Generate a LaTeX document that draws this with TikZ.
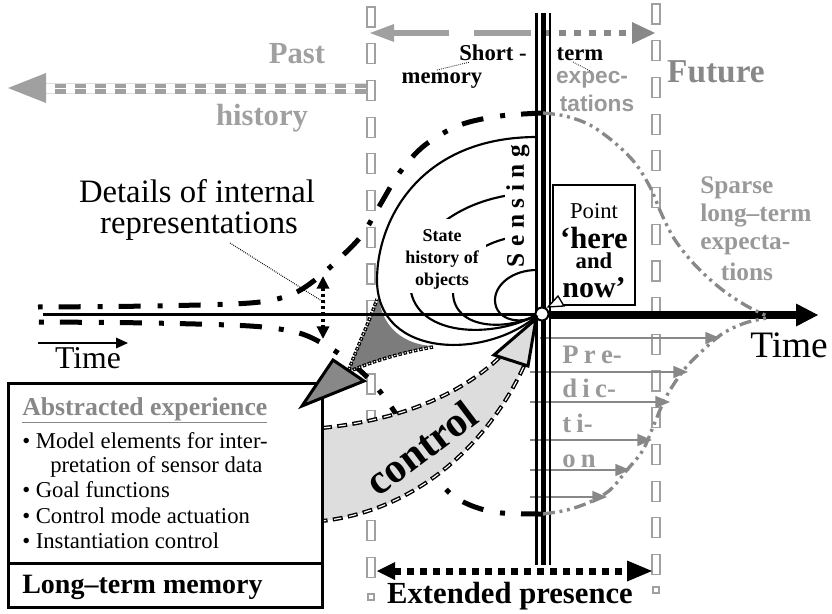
\documentclass[tikz,border=0pt]{standalone}
\usepackage{fontspec}
\setmainfont{Liberation Serif}
\newfontfamily\sansfam{Liberation Sans}
\usetikzlibrary{arrows.meta}
\definecolor{pgray}{HTML}{A0A0A0}
\definecolor{mgray}{HTML}{888888}
\definecolor{tgray}{HTML}{999999}
\definecolor{dgray}{HTML}{7C7C7C}
\definecolor{lgray}{HTML}{DDDDDD}
\newcommand{\fsz}[1]{\fontsize{#1}{#1}\selectfont}
\tikzset{
  ddot/.style={line width=3.75pt, dash pattern=on 16.5pt off 12pt on 3.75pt off 12.75pt},
  gdd/.style={draw=mgray, line width=2.5pt, dash pattern=on 9pt off 3.5pt on 2.2pt off 3.5pt on 2.2pt off 3.5pt},
  grect/.style={draw=pgray, line width=0.9pt, fill=white},
  loopl/.style={line width=1.6pt},
  lbl/.style={inner sep=0pt, anchor=base},
  lblw/.style={inner sep=0pt, anchor=base west},
  chainout/.style={draw=black, line width=2.6pt, dash pattern=on 2.6pt off 1.4pt},
  chainin/.style={draw=white, line width=0.8pt, dash pattern=on 1pt off 3pt, dash phase=3.2pt},
  bordout/.style={draw=black, line width=3pt, dash pattern=on 7.5pt off 4pt},
  bordin/.style={draw=white, line width=0.9pt, dash pattern=on 5.5pt off 6pt, dash phase=10.5pt},
  predarr/.style={draw=mgray, line width=1.1pt, -{Triangle[length=11pt,width=9pt]}},
  fine/.style={line width=0.6pt, dash pattern=on 0.6pt off 0.9pt},
}
\begin{document}
\begin{tikzpicture}[x=0.75pt,y=-0.75pt]
\useasboundingbox (0,0) rectangle (832,614);
% gray dashed columns
\foreach \k in {0,...,15}{
  \draw[grect] (367,{7+36.7*\k}) rectangle (375,{27+36.7*\k});
  \draw[grect] (652,{4+36.7*\k}) rectangle (660,{24+36.7*\k});
}
\draw[grect] (368,594) rectangle (374,600);
\draw[grect] (653,587) rectangle (659,593);

% history arrow
\draw[lgray, line width=0.5pt] (44,83.5) -- (366,83.5) (44,93.5) -- (366,93.5);
\draw[pgray, line width=7.5pt, dash pattern=on 8.25pt off 6.75pt] (366,88.5) -- (44,88.5);
\draw[white, line width=1pt] (366,88.5) -- (44,88.5);
\fill[pgray] (8,88) -- (46,73) -- (46,103) -- cycle;

% top short-term arrow
\draw[pgray, line width=4.5pt, dash pattern=on 42.75pt off 18.75pt] (392,33) -- (537,33);
\draw[mgray, line width=4.5pt, dash pattern=on 5.25pt off 6pt] (544,33) -- (633,33);
\fill[pgray] (370,33) -- (394,24) -- (394,42) -- cycle;
\fill[mgray] (655,33) -- (632,22) -- (632,44) -- cycle;

% black dash-dot envelope
\draw[ddot] plot[smooth, tension=0.55] coordinates {(543,113) (500,116) (460,125) (425,145) (400,172) (380,205) (362,235) (340,258) (315,280) (290,295) (250,303) (150,306) (38,307)};
\draw[ddot] plot[smooth, tension=0.55] coordinates {(543,514) (502,513) (475,507) (452,495) (435,475) (412,440) (390,405) (370,380) (345,358) (320,342) (295,332) (250,326) (150,323) (38,322)};

% control band
\fill[lgray] (322,428) .. controls (400,420) and (460,395) .. (500,357) -- (524,366) .. controls (490,440) and (420,510) .. (322,521) -- cycle;
\draw[bordout] (322,428) .. controls (400,420) and (460,395) .. (500,357);
\draw[bordin] (322,428) .. controls (400,420) and (460,395) .. (500,357);
\draw[bordout] (524,366) .. controls (490,440) and (420,510) .. (322,521);
\draw[bordin] (524,366) .. controls (490,440) and (420,510) .. (322,521);

% dark region
\fill[dgray] (379,298) .. controls (382,328) and (405,345) .. (433,346) .. controls (405,352) and (375,360) .. (348,372) .. controls (358,345) and (370,320) .. (379,298) -- cycle;
\draw[chainout] (433,347) .. controls (405,352) and (375,360) .. (348,372) .. controls (358,345) and (370,320) .. (377,299);
\draw[chainin] (433,347) .. controls (405,352) and (375,360) .. (348,372) .. controls (358,345) and (370,320) .. (377,299);

% loops of state history
\draw[loopl] (537,137) .. controls (420,137) and (377,220) .. (377,280) .. controls (377,360) and (490,360) .. (540,313);
\draw[loopl] (537,193) .. controls (470,193) and (412,230) .. (410,282) .. controls (410,338) and (495,340) .. (540,313);
\draw[loopl] (537,235) .. controls (485,235) and (453,262) .. (453,292) .. controls (453,330) and (508,332) .. (540,313);
\draw[loopl] (537,270) .. controls (512,270) and (495,285) .. (495,300) .. controls (495,322) and (525,326) .. (540,313);

% white backgrounds of labels
\fill[white] (400,219) rectangle (486,293);
\fill[white] (505,142) rectangle (535,268);
\node[lbl, font=\fsz{13.5pt}\bfseries] (st1) at (442,241) {State};
\node[lbl, font=\fsz{13.5pt}\bfseries] (st2) at (442,263) {history of};
\node[lbl, font=\fsz{13.5pt}\bfseries] (st3) at (442,285) {objects};
\node[font=\fsz{19pt}\bfseries, rotate=90, inner sep=0pt] (sens) at (518,206) {S\kern4.9pt e\kern4.9pt n\kern4.9pt s\kern4.9pt i\kern4.9pt n\kern4.9pt g};

% prediction arrows
\draw[predarr] (540,338) -- (720,338);
\draw[predarr] (530,372) -- (688,372);
\draw[predarr] (530,402) -- (670,402);
\draw[predarr] (530,440) -- (652,440);
\draw[predarr] (530,470) -- (630,470);
\draw[predarr] (530,497) -- (607,497);

% sensing triple line
\draw[line width=1.9pt] (536.5,13) -- (536.5,565);
\draw[line width=3.4pt] (543.5,13) -- (543.5,565);
\draw[line width=1.9pt] (550,13) -- (550,565);

% time axis
\draw[line width=2.25pt] (43,314) -- (536,314);
\draw[line width=5.5pt] (550,315) -- (800,315);
\fill (818,315) -- (796,303.5) -- (796,326.5) -- cycle;
\draw[line width=1.5pt, fill=white] (542,314) circle[radius=6.5];

% gray dash-dot continuation
\draw[gdd] plot[smooth, tension=0.55] coordinates {(543,113) (565,116) (590,125) (615,143) (635,163) (650,187) (662,215) (675,240) (695,265) (720,288) (745,305) (767,316)};
\draw[gdd] plot[smooth, tension=0.55] coordinates {(543,514) (567,510) (590,502) (610,490) (627,470) (643,450) (655,422) (666,397) (683,371) (700,353) (722,334) (745,323) (767,318)};

% long-term memory box
\draw[line width=2.25pt, fill=white] (8,383) rectangle (322,607);
\draw[line width=2.25pt] (8,563) -- (322,563);
\draw[line width=2.25pt, fill=mgray, line join=miter] (302,406) -- (333,360) -- (364,381) -- cycle;
\draw[line width=2.25pt, fill=lgray] (536,319) -- (494,355) -- (528,366) -- cycle;

% point here and now
\draw[line width=1.5pt, fill=white] (553,185) rectangle (635,305);
\draw[line width=1pt, fill=white] (548,307) -- (558,296) -- (564,306) -- cycle;
\node[lbl, font=\fsz{17pt}] (pt1) at (594,218) {Point};
\node[lbl, font=\fsz{23pt}\bfseries] (pt2) at (594,248) {‘here};
\node[lbl, font=\fsz{17pt}\bfseries] (pt3) at (594,268) {and};
\node[lbl, font=\fsz{22.5pt}\bfseries] (pt4) at (594,297) {now’};

% details pointer and arrow
\node[lbl, font=\fsz{24.5pt}] (det1) at (197,202) {Details of internal};
\node[lbl, font=\fsz{24.5pt}] (det2) at (199,233) {representations};
\coordinate (detend) at (325,303);
\draw[fine, line width=0.8pt] (230,243) -- (detend);
\draw[line width=2.4pt, dash pattern=on 2.4pt off 2.2pt, {Triangle[length=9.5pt,width=9pt]}-{Triangle[length=9.5pt,width=9pt]}] (323,276) -- (323,339);

% time label left
\draw[line width=0.9pt, -{Triangle[length=9pt,width=8pt]}] (38,343) -- (128,343);
\node[lbl, font=\fsz{23.8pt}] (timeL) at (88,368) {Time};
\node[lblw, font=\fsz{28pt}] (timeR) at (750,357) {Time};

% top labels
\node[lbl, text=pgray, font=\fsz{23pt}\bfseries] (past) at (297,63) {Past};
\node[lbl, text=pgray, font=\fsz{23pt}\bfseries] (hist) at (262,125) {history};
\node[lbl, font=\fsz{17pt}\bfseries] (short) at (493,60) {Short -};
\node[lbl, font=\fsz{17pt}\bfseries] (mem) at (442,83) {memory};
\node[lbl, font=\fsz{17pt}\bfseries] (term) at (580,60) {term};
\draw[fine] (437,70) -- (470,62);
\draw[fine] (573,62) -- (592,72);
\node[lbl, text=tgray, font=\sansfam\fsz{17pt}\bfseries] (exp1) at (592,83) {expec-};
\node[lbl, text=tgray, font=\sansfam\fsz{17pt}\bfseries] (exp2) at (597,111) {tations};
\node[lbl, text=mgray, font=\fsz{25pt}\bfseries] (fut) at (716,82) {Future};
\node[lblw, text=tgray, font=\fsz{19pt}\bfseries] (sp1) at (700,193) {Sparse};
\node[lblw, text=tgray, font=\fsz{19pt}\bfseries] (sp2) at (700,221) {long--term};
\node[lblw, text=tgray, font=\fsz{19pt}\bfseries] (sp3) at (700,249) {expecta-};
\node[lbl, text=tgray, font=\fsz{19pt}\bfseries] (sp4) at (747,280) {tions};

% prediction text
\node[lblw, text=tgray, font=\fsz{20pt}\bfseries] (pr1) at (562,363) {P\kern4pt r\kern4pt e-};
\node[lblw, text=tgray, font=\fsz{20pt}\bfseries] (pr2) at (562,397) {d\kern4pt i\kern4pt c-};
\node[lblw, text=tgray, font=\fsz{20pt}\bfseries] (pr3) at (562,432) {t\kern4pt i-};
\node[lblw, text=tgray, font=\fsz{20pt}\bfseries] (pr4) at (562,467) {o\kern4pt n};

% control label
\node[font=\fsz{31.5pt}\bfseries, rotate=37, inner sep=0pt] (ctrl) at (421,448) {control};

% long-term memory text
\node[lblw, text=mgray, font=\fsz{19.3pt}\bfseries] (abs) at (22,415) {\underline{Abstracted experience}};
\node[lblw, font=\fsz{17pt}] (b1) at (22,448) {• Model elements for inter-};
\node[lblw, font=\fsz{17pt}] (b1b) at (50,472) {pretation of sensor data};
\node[lblw, font=\fsz{17pt}] (b2) at (22,497) {• Goal functions};
\node[lblw, font=\fsz{17pt}] (b3) at (22,523) {• Control mode actuation};
\node[lblw, font=\fsz{17pt}] (b4) at (22,548) {• Instantiation control};
\node[lblw, font=\fsz{21pt}\bfseries] (ltm) at (22,593) {Long--term memory};

% extended presence
\draw[line width=5.25pt, dash pattern=on 5.25pt off 4.5pt] (394,571) -- (628,571);
\fill (377,571) -- (395,562) -- (395,580) -- cycle;
\fill (652,571) -- (627,560.5) -- (627,581.5) -- cycle;
\node[lbl, font=\fsz{23pt}\bfseries] (ext) at (510,603) {Extended presence};
\end{tikzpicture}
\end{document}
